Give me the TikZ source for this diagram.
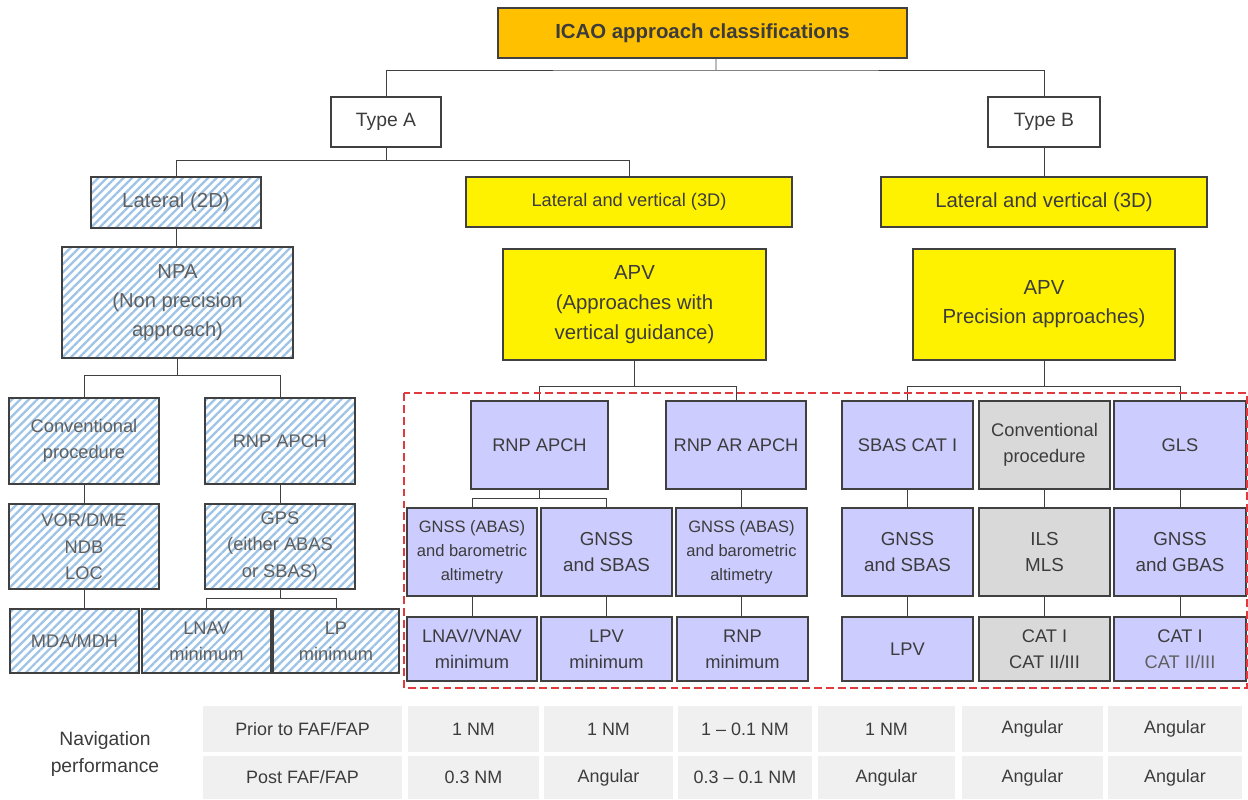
\documentclass[tikz,border=0pt]{standalone}
\usepackage{fontspec}
\setmainfont{Liberation Sans}
\usetikzlibrary{patterns.meta}
\definecolor{boxline}{HTML}{404040}
\definecolor{linec}{HTML}{404040}
\definecolor{txt}{HTML}{3C3C3C}
\definecolor{txtlight}{HTML}{606060}
\definecolor{hatchc}{HTML}{9DC3E6}
\definecolor{lavender}{HTML}{CCCCFF}
\definecolor{greyc}{HTML}{D9D9D9}
\definecolor{orangec}{HTML}{FFC000}
\definecolor{cellc}{HTML}{F0F0F0}
\definecolor{dashred}{HTML}{E0393E}

\begin{document}
\begin{tikzpicture}[x=0.02cm,y=-0.02cm,
	box/.style={draw=boxline,line width=0.8pt,inner sep=0pt,align=center,text=txt,font=\fontsize{10.4}{15}\selectfont},
	hatchbox/.style={box,pattern={Lines[angle=45,distance=3.4pt,line width=1.3pt]},pattern color=hatchc,text=txtlight},
	lavbox/.style={box,fill=lavender,minimum height=1.76cm},
	greybox/.style={box,fill=greyc,minimum height=1.76cm},
	yelbox/.style={box,fill=yellow},
	link/.style={draw=linec,line width=0.55pt},
	cell/.style={fill=cellc,inner sep=0pt,text=txt,font=\fontsize{10.2}{14}\selectfont}]
	\useasboundingbox (0,0) rectangle (1248,800);

	% top levels
	\node[box,fill=orangec,minimum width=8.18cm,minimum height=1cm,font=\bfseries\fontsize{11.6}{14}\selectfont] (icao) at (702.5,33) {ICAO approach classifications};
	\node[box,minimum width=2.2cm,minimum height=1cm,font=\fontsize{11}{14}\selectfont] (typeA) at (386,122) {Type A};
	\node[box,minimum width=2.24cm,minimum height=1cm,font=\fontsize{11}{14}\selectfont] (typeB) at (1044,122) {Type B};
	\node[hatchbox,minimum width=3.4cm,minimum height=1.02cm,font=\fontsize{11.6}{14}\selectfont] (lat2d) at (176,202.5) {Lateral (2D)};
	\node[yelbox,minimum width=6.52cm,minimum height=1cm] (lat3dA) at (629,202) {Lateral and vertical (3D)};
	\node[yelbox,minimum width=6.52cm,minimum height=1cm,font=\fontsize{11.6}{14}\selectfont] (lat3dB) at (1044,202) {Lateral and vertical (3D)};
	\node[hatchbox,minimum width=4.62cm,minimum height=2.22cm,font=\fontsize{11.5}{16.4}\selectfont] (npa) at (177.5,302.5) {NPA\\(Non precision\\approach)};
	\node[yelbox,minimum width=5.26cm,minimum height=2.22cm,font=\fontsize{11.6}{17}\selectfont] (apvA) at (634.5,304.5) {APV\\(Approaches with\\vertical guidance)};
	\node[yelbox,minimum width=5.24cm,minimum height=2.22cm,font=\fontsize{11.6}{16.4}\selectfont] (apvB) at (1044,304.5) {APV\\Precision approaches)};

	% type A, 2D
	\node[hatchbox,minimum width=3cm,minimum height=1.72cm] (conv) at (84,441) {Conventional\\procedure};
	\node[hatchbox,minimum width=3cm,minimum height=1.72cm] (rnpL) at (280,441) {RNP APCH};
	\node[hatchbox,minimum width=3cm,minimum height=1.7cm] (vor) at (84,546.5) {VOR/DME\\NDB\\LOC};
	\node[hatchbox,minimum width=3cm,minimum height=1.7cm] (gps) at (280,546.5) {GPS\\(either ABAS\\or SBAS)};
	\node[hatchbox,minimum width=2.58cm,minimum height=1.28cm] (mda) at (74.5,641) {MDA/MDH};
	\node[hatchbox,minimum width=2.58cm,minimum height=1.28cm] (lnavL) at (206.5,641) {LNAV\\minimum};
	\node[hatchbox,minimum width=2.52cm,minimum height=1.28cm] (lpL) at (336,641) {LP\\minimum};

	% type A, 3D
	\node[lavbox,minimum width=2.74cm] (rnpM) at (539.5,445) {RNP APCH};
	\node[lavbox,minimum width=2.8cm] (rnpAR) at (736,445) {RNP AR APCH};
	\node[lavbox,minimum width=2.6cm,font=\fontsize{9.4}{13.6}\selectfont] (gnssA1) at (472,552) {GNSS (ABAS)\\and barometric\\altimetry};
	\node[lavbox,minimum width=2.62cm,font=\fontsize{10.7}{14.7}\selectfont] (gnssS1) at (606.5,552) {GNSS\\and SBAS};
	\node[lavbox,minimum width=2.62cm,font=\fontsize{9.4}{13.6}\selectfont] (gnssA2) at (741.5,552) {GNSS (ABAS)\\and barometric\\altimetry};
	\node[lavbox,minimum width=2.6cm,minimum height=1.28cm] (lnavv) at (472,649) {LNAV/VNAV\\minimum};
	\node[lavbox,minimum width=2.62cm,minimum height=1.28cm] (lpvM) at (606.5,649) {LPV\\minimum};
	\node[lavbox,minimum width=2.62cm,minimum height=1.28cm] (rnpmin) at (742.5,649) {RNP\\minimum};

	% type B
	\node[lavbox,minimum width=2.62cm] (sbas) at (907.5,445) {SBAS CAT I};
	\node[greybox,minimum width=2.62cm] (convB) at (1044.5,445) {Conventional\\procedure};
	\node[lavbox,minimum width=2.64cm] (gls) at (1180,445) {GLS};
	\node[lavbox,minimum width=2.62cm,font=\fontsize{10.7}{14.7}\selectfont] (gnssS2) at (907.5,552) {GNSS\\and SBAS};
	\node[greybox,minimum width=2.62cm,font=\fontsize{10.7}{14.7}\selectfont] (ils) at (1044.5,552) {ILS\\MLS};
	\node[lavbox,minimum width=2.64cm,font=\fontsize{10.7}{14.7}\selectfont] (gnssG) at (1180,552) {GNSS\\and GBAS};
	\node[lavbox,minimum width=2.62cm,minimum height=1.28cm] (lpvB) at (907.5,649) {LPV};
	\node[greybox,minimum width=2.62cm,minimum height=1.28cm] (cat1) at (1044.5,649) {CAT I\\CAT II/III};
	\node[lavbox,minimum width=2.64cm,minimum height=1.28cm] (cat2) at (1180,649) {CAT I\\\textcolor{txtlight}{CAT II/III}};

	% connectors
	\coordinate (bus1) at (716,70);
	\draw[link] ([xshift=0.27cm]icao.south) -- (bus1);
	\draw[link] (typeA.north) |- (bus1) -| (typeB.north);
	\draw[link] (typeA.south) -- ++(0,13) coordinate (busA);
	\draw[link] (lat2d.north) |- (busA) -| (lat3dA.north);
	\draw[link] (typeB.south) -- (lat3dB.north);
	\draw[link] (lat2d.south) -- (lat2d.south |- npa.north);
	\draw[link] (npa.south) -- ++(0,17) coordinate (busN);
	\draw[link] (conv.north) |- (busN) -| (rnpL.north);
	\draw[link] (conv.south) -- (vor.north);
	\draw[link] (vor.south) -- (vor.south |- mda.north);
	\draw[link] (rnpL.south) -- (gps.north);
	\draw[link] (gps.south) -- ++(0,9) coordinate (busG);
	\draw[link] (lnavL.north) |- (busG) -| (lpL.north);
	\draw[link] (apvA.south) -- ++(0,26) coordinate (busV);
	\draw[link] (rnpM.north) |- (busV) -| (rnpAR.north);
	\draw[link] (rnpM.south) -- ++(0,9) coordinate (busR);
	\draw[link] (gnssA1.north) |- (busR) -| (gnssS1.north);
	\draw[link] (gnssA2.north) -- (gnssA2.north |- rnpAR.south);
	\draw[link] (gnssA1.south) -- (lnavv.north);
	\draw[link] (gnssS1.south) -- (lpvM.north);
	\draw[link] (gnssA2.south) -- (gnssA2.south |- rnpmin.north);
	\draw[link] (apvB.south) -- ++(0,26) coordinate (busP);
	\draw[link] (sbas.north) |- (busP) -| (gls.north);
	\foreach \a/\b/\c in {sbas/gnssS2/lpvB,convB/ils/cat1,gls/gnssG/cat2} {
		\draw[link] (\a.south) -- (\b.north);
		\draw[link] (\b.south) -- (\c.north);
	}

	% dashed frame
	\draw[dashred,line width=1.1pt,dash pattern=on 4.5pt off 2.3pt] (404,393) rectangle (1247,688);

	% navigation performance table
	\node[text=txt,align=center,font=\fontsize{11}{15.9}\selectfont] (navperf) at (105,754) {Navigation\\performance};
	\foreach \cx/\cw/\ta/\tb [count=\i from 0] in {302.5/3.98/{Prior to FAF/FAP}/{Post FAF/FAP},
		473.5/2.62/1 NM/0.3 NM, 608.5/2.58/1 NM/Angular, 745/2.68/1 -- 0.1 NM/0.3 -- 0.1 NM,
		886.5/2.74/1 NM/Angular, 1032.5/2.82/Angular/Angular, 1175/2.68/Angular/Angular} {
		\node[cell,minimum width=\cw cm,minimum height=0.92cm] (p\i) at (\cx,729) {\ta};
		\node[cell,minimum width=\cw cm,minimum height=0.86cm] (q\i) at (\cx,777.5) {\tb};
	}
\end{tikzpicture}
\end{document}
